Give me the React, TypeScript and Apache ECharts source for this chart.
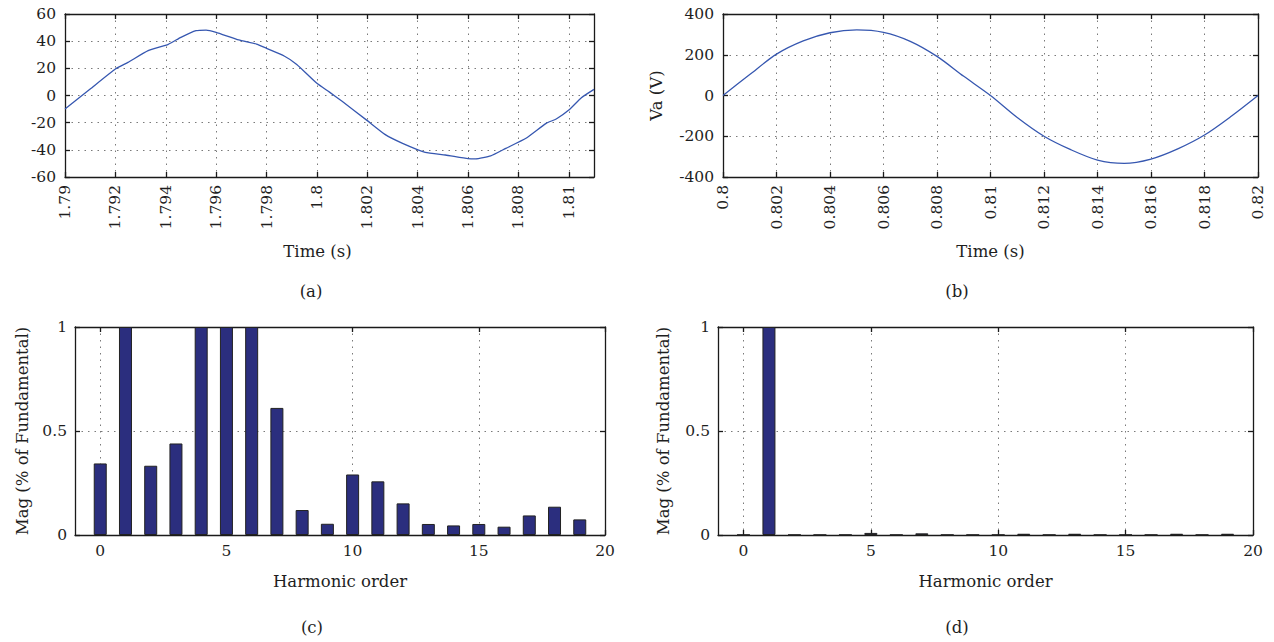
import React, { useEffect, useRef } from "react";
import * as echarts from "echarts";

// ---- Panel (a): current waveform ----
const timeA = [1.79, 1.791, 1.792, 1.7925, 1.7933, 1.7941, 1.7946, 1.7952, 1.7956, 1.796, 1.7969, 1.7976, 1.798, 1.7987, 1.7992, 1.8, 1.8005, 1.801, 1.802, 1.8027, 1.8034, 1.8043, 1.8051, 1.806, 1.8063, 1.8069, 1.8075, 1.8083, 1.8091, 1.8095, 1.81, 1.8105, 1.811];
const currentA = [-9.9, 4.8, 19.5, 24.4, 33.0, 37.7, 42.8, 47.7, 48.2, 46.5, 40.9, 37.9, 34.7, 29.1, 22.9, 9.0, 2.5, -4.3, -18.5, -28.6, -35.2, -41.8, -43.8, -46.5, -46.7, -44.5, -38.9, -31.5, -20.5, -17.3, -10.7, -1.6, 4.5];
const ticksA = ["1.79", "1.792", "1.794", "1.796", "1.798", "1.8", "1.802", "1.804", "1.806", "1.808", "1.81"];

// ---- Panel (b): phase voltage ----
const timeB = [0.8, 0.801, 0.802, 0.803, 0.804, 0.805, 0.806, 0.807, 0.808, 0.809, 0.81, 0.811, 0.812, 0.813, 0.814, 0.815, 0.816, 0.817, 0.818, 0.819, 0.82];
const voltageB = [0, 103, 203, 268, 308, 322, 310, 266, 192, 94, 0, -108, -200, -266, -317, -333, -312, -262, -194, -102, 0];
const ticksB = ["0.8", "0.802", "0.804", "0.806", "0.808", "0.81", "0.812", "0.814", "0.816", "0.818", "0.82"];

// ---- Panels (c), (d): harmonic spectra ----
const harmonicOrder = [0, 1, 2, 3, 4, 5, 6, 7, 8, 9, 10, 11, 12, 13, 14, 15, 16, 17, 18, 19];
const magC = [0.344, 1, 0.333, 0.44, 1, 1, 1, 0.611, 0.12, 0.054, 0.291, 0.258, 0.152, 0.053, 0.046, 0.053, 0.04, 0.094, 0.136, 0.075];
const magD = [0.001, 1, 0.001, 0.001, 0.001, 0.01, 0.001, 0.008, 0.001, 0.001, 0.001, 0.006, 0.001, 0.006, 0.001, 0.001, 0.001, 0.006, 0.001, 0.006];
const ticksHarm = [0, 5, 10, 15, 20];

const FONT = "DejaVu Serif";
const TXT = "#1e1e1e";
const AX = "#1a1a1a";

const gridLine = { show: true, lineStyle: { type: [1.5, 5], color: "#7a7a7a", width: 1 } };

function xPair(gridIndex: number, min: number, max: number, ticks: number[], rotate: number, name: string, nameGap: number, shift: number) {
  const common = {
    type: "value",
    gridIndex,
    min,
    max,
    axisLine: { show: true, onZero: false, lineStyle: { color: AX, width: 1.3 } },
    axisTick: { show: true, inside: true, length: 5, customValues: ticks, lineStyle: { color: AX, width: 1.3 } },
  };
  return [
    {
      ...common,
      position: "bottom",
      axisLabel: {
        customValues: ticks,
        rotate,
        margin: 8,
        color: TXT,
        fontFamily: FONT,
        fontSize: 15.5,
        formatter: (v: number) => String(+v.toFixed(4)),
      },
      splitLine: gridLine,
      name,
      nameLocation: "middle",
      nameGap,
      nameTextStyle: { color: TXT, fontFamily: FONT, fontSize: 16.5, padding: [0, shift, 0, 0] },
    },
    {
      ...common,
      position: "top",
      axisLabel: { show: false },
      splitLine: { show: false },
    },
  ];
}

function yPair(gridIndex: number, min: number, max: number, interval: number, name: string, nameGap: number, margin: number) {
  const common = {
    type: "value",
    gridIndex,
    min,
    max,
    interval,
    axisLine: { show: true, onZero: false, lineStyle: { color: AX, width: 1.3 } },
    axisTick: { show: true, inside: true, length: 5, lineStyle: { color: AX, width: 1.3 } },
  };
  return [
    {
      ...common,
      position: "left",
      axisLabel: { margin, color: TXT, fontFamily: FONT, fontSize: 15.5 },
      splitLine: gridLine,
      name,
      nameLocation: "middle",
      nameGap,
      nameTextStyle: { color: TXT, fontFamily: FONT, fontSize: 16.5 },
    },
    {
      ...common,
      position: "right",
      axisLabel: { show: false },
      splitLine: { show: false },
    },
  ];
}

function caption(text: string, x: number, y: number) {
  return {
    type: "text",
    x,
    y,
    style: { text, textAlign: "center", textVerticalAlign: "middle", fontFamily: FONT, fontSize: 16.5, fill: TXT },
  };
}

export default function App() {
  const ref = useRef<HTMLDivElement>(null);

  useEffect(() => {
    if (!ref.current) return;
    const chart = echarts.init(ref.current, null, { renderer: "svg" });

    const lineA = timeA.map((t, i) => [t, currentA[i]]);
    const lineB = timeB.map((t, i) => [t, voltageB[i]]);
    const barsC = harmonicOrder.map((h, i) => [h, magC[i]]);
    const barsD = harmonicOrder.map((h, i) => [h, magD[i]]);

    const numA = ticksA.map(Number);
    const numB = ticksB.map(Number);

    const barStyle = { color: "#2b2e7e", borderColor: "#222", borderWidth: 1 };

    const option: any = {
      animation: false,
      backgroundColor: "#fff",
      textStyle: { fontFamily: FONT },
      grid: [
        { left: 65, top: 14, width: 529, height: 163 },
        { left: 723, top: 14, width: 535, height: 163 },
        { left: 75, top: 327, width: 530, height: 208 },
        { left: 718, top: 327, width: 535, height: 208 },
      ],
      xAxis: [
        ...xPair(0, 1.79, 1.811, numA, 90, "Time (s)", 66, 24),
        ...xPair(1, 0.8, 0.82, numB, 90, "Time (s)", 66, 0),
        ...xPair(2, -1, 20, ticksHarm, 0, "Harmonic order", 38, 0),
        ...xPair(3, -1, 20, ticksHarm, 0, "Harmonic order", 38, 0),
      ],
      yAxis: [
        ...yPair(0, -60, 60, 20, "", 40, 9),
        ...yPair(1, -400, 400, 200, "Va (V)", 58, 9),
        ...yPair(2, 0, 1, 0.5, "Mag (% of Fundamental)", 44, 8),
        ...yPair(3, 0, 1, 0.5, "Mag (% of Fundamental)", 46, 8),
      ],
      series: [
        {
          type: "line",
          xAxisIndex: 0,
          yAxisIndex: 0,
          data: lineA,
          showSymbol: false,
          smooth: 0.15,
          lineStyle: { color: "#3657b0", width: 1.3 },
        },
        {
          type: "line",
          xAxisIndex: 2,
          yAxisIndex: 2,
          data: lineB,
          showSymbol: false,
          smooth: 0.3,
          lineStyle: { color: "#3657b0", width: 1.3 },
        },
        {
          type: "bar",
          xAxisIndex: 4,
          yAxisIndex: 4,
          data: barsC,
          barWidth: 13,
          itemStyle: barStyle,
        },
        {
          type: "bar",
          xAxisIndex: 6,
          yAxisIndex: 6,
          data: barsD,
          barWidth: 13,
          itemStyle: barStyle,
        },
      ],
      graphic: [
        caption("(a)", 311, 291),
        caption("(b)", 957, 291),
        caption("(c)", 312, 627),
        caption("(d)", 957, 627),
      ],
    };

    chart.setOption(option);
    return () => chart.dispose();
  }, []);

  return <div ref={ref} style={{ position: "fixed", left: 0, top: 0, width: 1274, height: 642 }} />;
}
